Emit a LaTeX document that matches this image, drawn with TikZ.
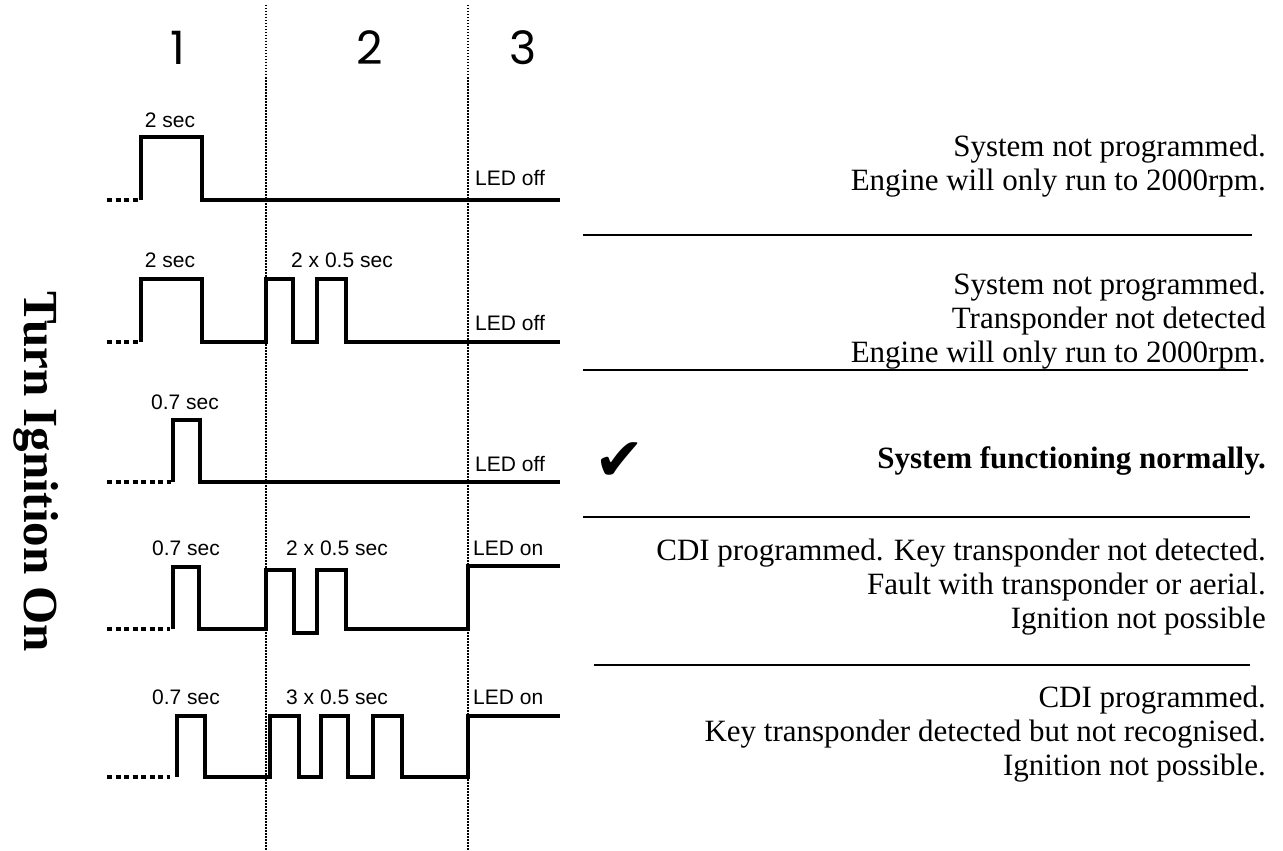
\documentclass[tikz,border=0pt]{standalone}
\usepackage{fontspec}
\setmainfont{Liberation Serif}
\newfontfamily\labfont{Liberation Sans}
\newfontfamily\numfont{Poppins}
\newfontfamily\symfont{DejaVu Sans}
\begin{document}
\begin{tikzpicture}[x=1pt,y=-1pt,
  wave/.style={line width=3.3pt, line join=miter},
  lead/.style={line width=3.3pt, dash pattern=on 5pt off 3.5pt},
  gridline/.style={line width=1.3pt, dash pattern=on 1.5pt off 1.5pt},
  sepline/.style={line width=2pt},
  lab/.style={font={\labfont\fontsize{21}{24}\selectfont}, inner sep=0pt},
  num/.style={font={\numfont\fontsize{46}{50}\selectfont}, inner sep=0pt},
  desc/.style={font={\fontsize{31}{34}\selectfont}, align=right, inner sep=0pt, anchor=east}]
\useasboundingbox (0,0) rectangle (1283,851);
\fill[white] (0,0) rectangle (1283,851);

% column separators
\draw[gridline] (266,5) -- (266,851);
\draw[gridline] (468,5) -- (468,851);

% headers
\node[num] (h1) at (178,48) {1};
\node[num] (h2) at (370,48) {2};
\node[num] (h3) at (523,48) {3};

% side title
\node[rotate=-90, inner sep=0pt, font={\bfseries\fontsize{49}{52}\selectfont}] (title) at (36,472) {Turn Ignition On};

% row 1
\draw[lead] (107,200) -- (140,200);
\draw[wave] (141,200) -- (141,137) -- (202,137) -- (202,200) -- (560,200);
\node[lab] (r1a) at (170,120) {2 sec};
\node[lab, anchor=west] (r1c) at (475,178) {LED off};

% row 2
\draw[lead] (107,342) -- (140,342);
\draw[wave] (141,342) -- (141,279) -- (202,279) -- (202,342) -- (266,342) -- (266,279) -- (293,279) -- (293,342) -- (317,342) -- (317,279) -- (346,279) -- (346,342) -- (560,342);
\node[lab] (r2a) at (170,260) {2 sec};
\node[lab] (r2b) at (342,260) {2 x 0.5 sec};
\node[lab, anchor=west] (r2c) at (475,323) {LED off};

% row 3
\draw[lead] (107,482) -- (171,482);
\draw[wave] (173,482) -- (173,420) -- (200,420) -- (200,482) -- (560,482);
\node[lab] (r3a) at (185,402) {0.7 sec};
\node[lab, anchor=west] (r3c) at (475,464) {LED off};

% row 4
\draw[lead] (107,629) -- (170,629);
\draw[wave] (173,629) -- (173,567) -- (199,567) -- (199,629) -- (266,629) -- (266,570) -- (294,570) -- (294,633) -- (317,633) -- (317,570) -- (346,570) -- (346,629) -- (468,629) -- (468,566) -- (560,566);
\node[lab] (r4a) at (186,548) {0.7 sec};
\node[lab] (r4b) at (337,548) {2 x 0.5 sec};
\node[lab, anchor=west] (r4c) at (473,548) {LED on};

% row 5
\draw[lead] (107,777) -- (170,777);
\draw[wave] (177,777) -- (177,716) -- (205,716) -- (205,777) -- (270,777) -- (270,716) -- (299,716) -- (299,777) -- (321,777) -- (321,716) -- (348,716) -- (348,777) -- (373,777) -- (373,716) -- (402,716) -- (402,777) -- (468,777) -- (468,716) -- (560,716);
\node[lab] (r5a) at (186,697) {0.7 sec};
\node[lab] (r5b) at (337,697) {3 x 0.5 sec};
\node[lab, anchor=west] (r5c) at (473,697) {LED on};

% descriptions
\node[desc] (d1) at (1266,166) {System not programmed.\\Engine will only run to 2000rpm.};
\draw[sepline] (583,235) -- (1252,235);
\node[desc] (d2) at (1266,321) {System not programmed.\\Transponder not detected\\Engine will only run to 2000rpm.};
\draw[sepline] (583,370) -- (1248,370);
\node[inner sep=0pt, font={\symfont\fontsize{60}{62}\selectfont}] (chk) at (620,462) {✔};
\node[desc, font={\bfseries\fontsize{31}{34}\selectfont}] (d3) at (1266,461) {System functioning normally.};
\draw[sepline] (583,517) -- (1250,517);
\node[desc] (d4) at (1266,587) {CDI programmed. Key transponder not detected.\\Fault with transponder or aerial.\\Ignition not possible};
\draw[sepline] (594,665) -- (1250,665);
\node[desc] (d5) at (1266,734) {CDI programmed.\\Key transponder detected but not recognised.\\Ignition not possible.};
\end{tikzpicture}
\end{document}
